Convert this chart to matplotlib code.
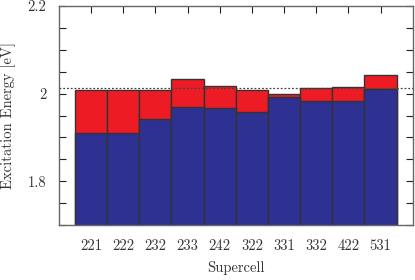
import numpy as np
import matplotlib
matplotlib.use('Agg')
import matplotlib.pyplot as plt
from matplotlib.ticker import MultipleLocator, FixedLocator

supercells = ['221', '222', '232', '233', '242', '322', '331', '332', '422', '531']
lower = [1.911, 1.911, 1.943, 1.969, 1.967, 1.958, 1.993, 1.984, 1.984, 2.011]
upper = [2.0075, 2.009, 2.0075, 2.034, 2.018, 2.009, 2.000, 2.0136, 2.016, 2.043]
reference = 2.0128

plt.rcParams['font.family'] = ['cmr10', 'DejaVu Serif']
plt.rcParams['axes.formatter.use_mathtext'] = True
plt.rcParams['font.size'] = 10.5

red = '#ED1C24'
blue = '#2E3192'
edge = '#333333'

fig = plt.figure(figsize=(4.15, 2.8), dpi=100)
ax = fig.add_axes([0.142, 0.196, 0.8525, 0.7826])

x = np.arange(1, len(supercells) + 1)
ax.bar(x, upper, width=1.0, color=red, edgecolor=edge, linewidth=1.0, zorder=2)
ax.bar(x, lower, width=1.0, color=blue, edgecolor=edge, linewidth=1.0, zorder=3)
ax.axhline(reference, color='#444444', linestyle=(0, (1.5, 1.5)), linewidth=0.9, zorder=4)

ax.set_xlim(0, 11)
ax.set_ylim(1.7, 2.2)
ax.set_xticks(x)
ax.set_xticklabels(supercells)
ax.yaxis.set_major_locator(FixedLocator([1.8, 2.0, 2.2]))
ax.yaxis.set_minor_locator(MultipleLocator(0.05))
ax.set_yticklabels(['1.8', '2', '2.2'])

ax.tick_params(axis='both', which='both', direction='in', top=True, right=True,
               color='#222222', width=0.8)
ax.tick_params(axis='x', which='major', length=5, pad=10)
ax.tick_params(axis='y', which='major', length=5, pad=9)
ax.tick_params(axis='y', which='minor', length=5)
for s in ax.spines.values():
    s.set_color('#666666')
    s.set_linewidth(1.0)
    s.set_zorder(5)

ax.set_xlabel('Supercell', labelpad=6, color='#333333')
ax.set_ylabel('Excitation Energy [eV]', labelpad=8, color='#333333')
for lab in ax.get_xticklabels() + ax.get_yticklabels():
    lab.set_color('#333333')

fig.savefig('out.png', dpi=100)
